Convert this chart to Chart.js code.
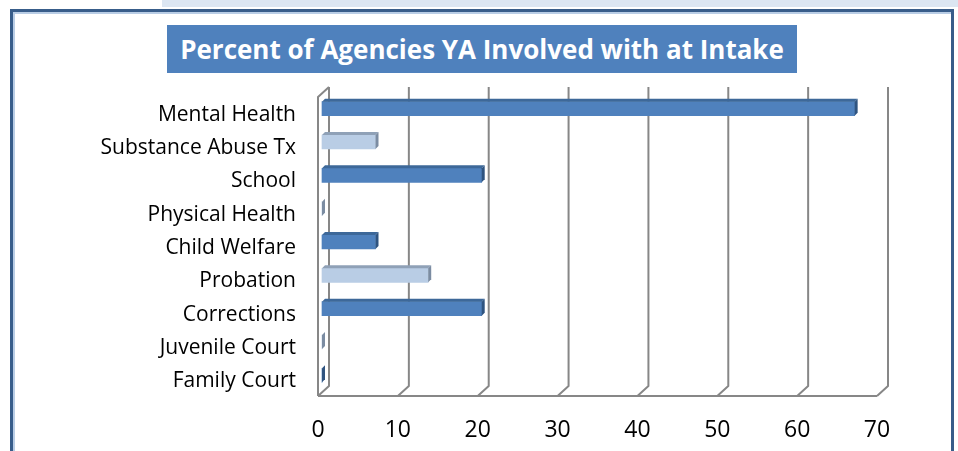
<!DOCTYPE html>
<html>
<head>
<meta charset="utf-8">
<script src="https://cdn.jsdelivr.net/npm/chart.js@4"></script>
<style>
  html, body { margin: 0; padding: 0; background: #fff; }
  body { width: 958px; height: 451px; position: relative; overflow: hidden; font-family: "Open Sans", sans-serif; }
  #strip { position: absolute; left: 162px; top: 0; width: 796px; height: 7px; background: #dce6f2; }
  #frame { position: absolute; left: 10px; top: 9px; width: 938px; height: 470px; border: 3px solid #385d8a; box-shadow: inset 2px 2px 0 #b9cde5; }
  #title { position: absolute; left: 167px; top: 25px; width: 630px; height: 48px; background: #4f81bd; color: #fff;
           font-weight: bold; font-size: 26px; line-height: 48px; text-align: center; white-space: nowrap; }
  #chart { position: absolute; left: 0; top: 0; }
</style>
</head>
<body>
<div id="strip"></div>
<div id="frame"></div>
<canvas id="chart" width="958" height="451"></canvas>
<div id="title">Percent of Agencies YA Involved with at Intake</div>

<script>
// dados
const categories = ['Mental Health', 'Substance Abuse Tx', 'School', 'Physical Health', 'Child Welfare',
                    'Probation', 'Corrections', 'Juvenile Court', 'Family Court'];
const percentValues = [66.7, 6.7, 20, 0, 6.7, 13.3, 20, 0, 0];
const xTicks = [0, 10, 20, 30, 40, 50, 60, 70];

/* ================= ESTILO ================= */
const faceColors = [
  { front: '#4f81bd', top: '#3d6899', side: '#2f5480' },
  { front: '#b9cde5', top: '#8fa1b7', side: '#7b8ca2' }
];
const GRID_DX = 11, GRID_DY = 10;   // profundidade da grade
const SHIFT = 4;                    // face frontal da barra dentro da profundidade
const BAR_D = 3;                    // profundidade da barra

const depthPlugin = {
  id: 'depth',
  beforeDatasetsDraw(chart) {
    const { ctx, chartArea: a, scales: { x } } = chart;
    const backTop = a.top - 9;
    const backBottom = a.bottom - GRID_DY;
    ctx.save();
    ctx.strokeStyle = '#878787';
    ctx.lineWidth = 2;
    ctx.lineJoin = 'round';

    xTicks.forEach((v, i) => {
      const fx = x.getPixelForValue(v);
      const bx = fx + GRID_DX;
      ctx.beginPath();
      if (i === 0) {
        ctx.moveTo(fx, a.bottom);
        ctx.lineTo(fx, a.top + 1);
        ctx.lineTo(bx, backTop);
        ctx.stroke();
        ctx.beginPath();
      }
      ctx.moveTo(bx, backTop);
      ctx.lineTo(bx, backBottom);
      ctx.lineTo(fx, a.bottom);
      ctx.stroke();
    });

    // chão
    ctx.beginPath();
    ctx.moveTo(x.getPixelForValue(xTicks[0]), a.bottom);
    ctx.lineTo(x.getPixelForValue(xTicks[xTicks.length - 1]), a.bottom);
    ctx.stroke();
    ctx.restore();
  },
  beforeDatasetDraw(chart) {
    chart.ctx.save();
    chart.ctx.translate(SHIFT, -SHIFT);
  },
  afterDatasetDraw(chart, args) {
    const ctx = chart.ctx;
    args.meta.data.forEach((el, i) => {
      const { x, y, base, height } = el.getProps(['x', 'y', 'base', 'height'], true);
      const t = y - height / 2, b = y + height / 2;
      const c = faceColors[i % 2];
      // topo
      ctx.fillStyle = c.top;
      ctx.beginPath();
      ctx.moveTo(base, t);
      ctx.lineTo(x, t);
      ctx.lineTo(x + BAR_D, t - BAR_D);
      ctx.lineTo(base + BAR_D, t - BAR_D);
      ctx.closePath();
      ctx.fill();
      // lateral
      ctx.fillStyle = c.side;
      ctx.beginPath();
      ctx.moveTo(x, t);
      ctx.lineTo(x + BAR_D, t - BAR_D);
      ctx.lineTo(x + BAR_D, b - BAR_D);
      ctx.lineTo(x, b);
      ctx.closePath();
      ctx.fill();
    });
    ctx.restore();
  }
};

Chart.defaults.font.family = '"Open Sans", sans-serif';
Chart.defaults.color = '#000';

new Chart(document.getElementById('chart'), {
  type: 'bar',
  data: {
    labels: categories,
    datasets: [{
      data: percentValues,
      backgroundColor: categories.map((_, i) => faceColors[i % 2].front),
      barThickness: 14,
      clip: false
    }]
  },
  options: {
    indexAxis: 'y',
    responsive: false,
    animation: false,
    layout: { padding: { top: 96, right: 81, bottom: 0, left: 0 } },
    plugins: {
      legend: { display: false },
      tooltip: { enabled: false }
    },
    scales: {
      x: {
        min: xTicks[0],
        max: xTicks[xTicks.length - 1],
        ticks: { stepSize: 10, padding: 21, font: { size: 23 } },
        grid: { display: false, drawTicks: false },
        border: { display: false },
        afterFit(scale) { scale.height = 55; }
      },
      y: {
        ticks: { padding: 22, labelOffset: 2, font: { size: 21 } },
        grid: { display: false, drawTicks: false },
        border: { display: false },
        afterFit(scale) { scale.width = 318; }
      }
    }
  },
  plugins: [depthPlugin]
});
</script>
</body>
</html>
